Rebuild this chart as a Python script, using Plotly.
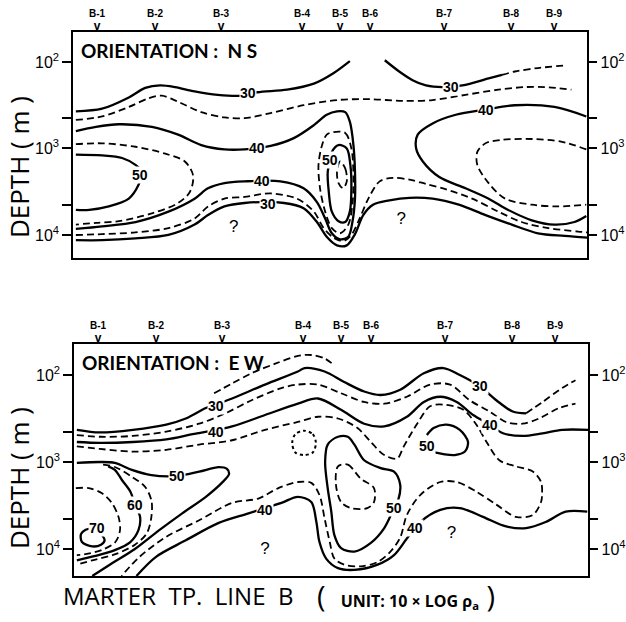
import plotly.graph_objects as go

# ---------------------------------------------------------------
# Apparent-resistivity pseudo-sections, Marter TP. line B.
# Horizontal position in km along the line, depth as log10(m).
# Each isoline is a list of (km, log10 depth) pairs.
# ---------------------------------------------------------------

STATIONS = ["B-1", "B-2", "B-3", "B-4", "B-5", "B-6", "B-7", "B-8", "B-9"]
STATIONS_KM = [0.47, 1.59, 2.89, 4.46, 5.19, 5.79, 7.22, 8.52, 9.36]

DEPTH_TICKS = [100, 450, 1000, 4500, 10000]
DEPTH_TICK_TEXT = ["10<sup>2</sup>", "", "10<sup>3</sup>", "", "10<sup>4</sup>"]

# ---------------- N-S orientation ----------------
NS_30_WEST = [(0.05, 2.57), (0.56, 2.54), (1.08, 2.41), (1.40, 2.30), (1.69, 2.27),
              (1.98, 2.29), (2.36, 2.34), (2.81, 2.38), (3.26, 2.39), (3.58, 2.35),
              (4.16, 2.32), (4.68, 2.25), (5.06, 2.13), (5.38, 1.99)]
NS_30_EAST = [(6.06, 1.98), (6.34, 2.11), (6.60, 2.21), (6.86, 2.27), (7.18, 2.29),
              (7.57, 2.27), (8.08, 2.19), (8.34, 2.15)]
NS_30_EAST_INFERRED = [(8.34, 2.15), (8.59, 2.11), (9.04, 2.07), (9.56, 2.04)]
NS_35_UPPER = [(0.05, 2.67), (0.56, 2.63), (1.08, 2.52), (1.46, 2.42), (1.72, 2.39),
               (2.04, 2.46), (2.49, 2.58), (2.94, 2.64), (3.33, 2.65), (3.84, 2.59),
               (4.48, 2.50), (5.13, 2.44), (5.76, 2.43), (6.41, 2.45), (6.99, 2.44),
               (7.63, 2.38), (8.27, 2.32), (8.79, 2.29), (9.17, 2.29), (9.69, 2.32)]
NS_40_WEST = [(0.05, 2.80), (0.44, 2.75), (0.89, 2.72), (1.53, 2.75), (2.04, 2.84),
              (2.49, 2.96), (2.94, 3.01), (3.33, 3.01), (3.84, 2.97), (4.29, 2.88),
              (4.68, 2.73), (4.93, 2.61), (5.13, 2.57), (5.29, 2.58), (5.38, 2.69),
              (5.45, 2.96), (5.48, 3.27), (5.48, 3.58), (5.43, 3.85), (5.35, 4.02),
              (5.19, 4.05), (5.03, 3.98), (4.90, 3.81), (4.74, 3.62), (4.48, 3.46),
              (4.03, 3.38), (3.33, 3.38), (2.94, 3.40), (2.62, 3.46), (2.36, 3.58),
              (1.85, 3.73), (1.21, 3.85), (0.56, 3.90), (0.05, 3.93)]
NS_45_WEST = [(0.05, 2.95), (0.56, 2.94), (1.21, 2.98), (1.79, 3.06), (2.17, 3.15),
              (2.33, 3.31), (2.27, 3.50), (2.04, 3.63), (1.53, 3.75), (0.89, 3.84),
              (0.44, 3.86), (0.05, 3.88)]
NS_50_WEST = [(0.05, 3.07), (0.56, 3.08), (0.95, 3.11), (1.21, 3.19), (1.34, 3.27),
              (1.27, 3.42), (1.08, 3.58), (0.69, 3.67), (0.31, 3.71), (0.05, 3.71)]
NS_35_LOWER = [(0.05, 4.00), (0.56, 3.99), (1.21, 3.97), (1.85, 3.92), (2.36, 3.81),
               (2.62, 3.67), (2.94, 3.58), (3.33, 3.56), (3.84, 3.52), (4.35, 3.58),
               (4.68, 3.73), (4.87, 3.92), (5.06, 4.03), (5.25, 4.07), (5.41, 4.00),
               (5.57, 3.81), (5.74, 3.58), (5.96, 3.38), (6.22, 3.34), (6.54, 3.36),
               (6.86, 3.41), (7.24, 3.47), (7.76, 3.58), (8.27, 3.73), (8.72, 3.85),
               (9.24, 3.92), (9.82, 3.96), (10.0, 3.97)]
NS_30_LOWER = [(0.05, 4.06), (0.56, 4.06), (1.21, 4.04), (1.85, 4.00), (2.36, 3.88),
               (2.62, 3.77), (2.94, 3.67), (3.33, 3.63), (4.10, 3.63), (4.48, 3.69),
               (4.74, 3.85), (4.93, 4.02), (5.13, 4.12), (5.32, 4.12), (5.48, 3.99),
               (5.64, 3.77), (5.83, 3.65), (6.15, 3.60), (6.54, 3.57), (6.99, 3.58),
               (7.50, 3.65), (8.02, 3.77), (8.53, 3.88), (9.04, 3.98), (9.56, 4.01),
               (10.0, 4.03)]
NS_40_EAST = [(9.98, 2.63), (9.36, 2.52), (8.59, 2.50), (8.02, 2.55), (7.44, 2.61),
              (6.99, 2.71), (6.70, 2.84), (6.67, 3.00), (6.80, 3.15), (7.12, 3.33),
              (7.63, 3.46), (8.08, 3.58), (8.46, 3.71), (8.92, 3.83), (9.36, 3.88),
              (9.75, 3.85), (9.98, 3.78)]
NS_45_EAST = [(9.98, 3.01), (9.49, 2.92), (8.92, 2.89), (8.34, 2.90), (8.02, 2.94),
              (7.86, 3.04), (7.86, 3.19), (8.08, 3.40), (8.40, 3.58), (8.92, 3.65),
              (9.43, 3.67), (9.98, 3.65)]
NS_45_B5 = [(5.06, 2.81), (5.29, 2.82), (5.41, 3.00), (5.45, 3.31), (5.43, 3.65),
            (5.35, 3.88), (5.19, 3.98), (5.03, 3.92), (4.90, 3.73), (4.80, 3.46),
            (4.77, 3.19), (4.84, 2.96), (4.93, 2.84), (5.06, 2.81)]
NS_50_B5 = [(5.16, 2.96), (5.32, 3.00), (5.39, 3.19), (5.41, 3.46), (5.38, 3.73),
            (5.29, 3.85), (5.16, 3.84), (5.03, 3.73), (4.97, 3.50), (4.95, 3.27),
            (5.00, 3.13), (5.03, 3.04), (5.16, 2.96)]
NS_55_B5 = [(5.19, 3.15), (5.29, 3.23), (5.32, 3.38), (5.25, 3.46), (5.16, 3.40),
            (5.13, 3.27), (5.19, 3.15)]

NS_LABELS = [("30", 3.39, 2.36), ("30", 7.34, 2.29), ("40", 3.58, 2.99),
             ("40", 3.68, 3.37), ("30", 3.78, 3.64), ("50", 1.30, 3.31),
             ("40", 8.02, 2.55), ("50", 5.00, 3.13)]
NS_UNKNOWN = [(3.12, 3.92), (6.38, 3.82)]

# ---------------- E-W orientation ----------------
EW_25_TOP = [(2.72, 2.21), (3.06, 2.10), (3.45, 1.98), (3.91, 1.87), (4.35, 1.78),
             (4.61, 1.77), (4.87, 1.81), (5.06, 1.89)]
EW_30 = [(0.05, 2.63), (0.50, 2.66), (1.14, 2.63), (1.79, 2.57), (2.17, 2.50),
         (2.56, 2.38), (3.07, 2.27), (3.71, 2.11), (4.35, 1.96), (4.48, 1.92),
         (4.87, 1.96), (5.25, 2.08), (5.64, 2.19), (5.96, 2.23), (6.34, 2.17),
         (6.80, 1.98), (7.18, 1.92), (7.50, 2.00), (7.89, 2.13), (8.21, 2.29),
         (8.53, 2.42), (8.79, 2.44)]
EW_30_INFERRED = [(8.79, 2.44), (9.11, 2.31), (9.49, 2.15), (9.75, 2.06)]
EW_35 = [(0.05, 2.69), (0.50, 2.71), (1.14, 2.70), (1.79, 2.65), (2.43, 2.56),
         (2.94, 2.44), (3.45, 2.29), (4.03, 2.15), (4.35, 2.11), (4.74, 2.11),
         (5.19, 2.21), (5.64, 2.31), (6.03, 2.33), (6.47, 2.25), (6.92, 2.11),
         (7.31, 2.11), (7.69, 2.29), (8.08, 2.42), (8.40, 2.54), (8.72, 2.56),
         (9.04, 2.50), (9.43, 2.38), (9.75, 2.33)]
EW_40_UPPER = [(0.05, 2.77), (0.50, 2.78), (1.14, 2.77), (1.79, 2.74), (2.30, 2.68),
               (3.07, 2.59), (3.71, 2.46), (4.35, 2.33), (4.74, 2.27), (5.19, 2.40),
               (5.64, 2.56), (6.03, 2.59), (6.47, 2.48), (6.80, 2.31), (7.12, 2.25),
               (7.44, 2.31), (7.76, 2.46), (8.08, 2.57), (8.34, 2.67), (8.72, 2.70),
               (9.11, 2.67), (9.49, 2.63), (10.0, 2.63)]
EW_45 = [(0.05, 2.82), (0.50, 2.85), (1.14, 2.88), (1.79, 2.86), (2.43, 2.80),
         (3.07, 2.75), (3.71, 2.63), (4.35, 2.54), (4.74, 2.48), (5.13, 2.50),
         (5.51, 2.61), (5.77, 2.77), (6.03, 2.92), (6.28, 2.96), (6.41, 2.82),
         (6.67, 2.56), (6.92, 2.36), (7.18, 2.34), (7.57, 2.40), (7.82, 2.57),
         (8.02, 2.77), (8.27, 2.98), (8.59, 3.05), (8.92, 3.11), (9.08, 3.23),
         (9.10, 3.38), (9.08, 3.46), (8.92, 3.61), (8.59, 3.63), (8.21, 3.49),
         (7.82, 3.34), (7.44, 3.23), (7.12, 3.23), (6.73, 3.38), (6.47, 3.61),
         (6.34, 3.87), (6.15, 4.03), (5.90, 4.15), (5.57, 4.20), (5.25, 4.18),
         (5.06, 4.11), (4.97, 3.92), (4.87, 3.65), (4.77, 3.38), (4.61, 3.24),
         (4.35, 3.23), (3.97, 3.30), (3.58, 3.42), (3.07, 3.47), (2.43, 3.67),
         (1.79, 3.86), (1.27, 4.09), (0.92, 4.31)]
EW_45_LOW_B4 = [(4.47, 2.64), (4.64, 2.68), (4.70, 2.78), (4.64, 2.89), (4.47, 2.92),
                (4.30, 2.89), (4.24, 2.78), (4.30, 2.68), (4.47, 2.64)]
EW_50_B5 = [(4.93, 2.80), (5.13, 2.71), (5.32, 2.71), (5.45, 2.80), (5.64, 2.98),
            (5.96, 3.07), (6.22, 3.11), (6.34, 3.26), (6.30, 3.44), (6.22, 3.53),
            (6.03, 3.76), (5.77, 3.93), (5.45, 4.03), (5.19, 3.99), (5.06, 3.84),
            (5.00, 3.57), (4.93, 3.30), (4.88, 3.00), (4.93, 2.80)]
EW_55_B5 = [(5.13, 3.05), (5.32, 3.03), (5.57, 3.19), (5.83, 3.30), (5.83, 3.46),
            (5.70, 3.53), (5.38, 3.53), (5.19, 3.46), (5.09, 3.26), (5.13, 3.05)]
EW_50_B7 = [(7.01, 2.89), (7.18, 2.91), (7.40, 2.92), (7.60, 2.88), (7.66, 2.77),
            (7.50, 2.63), (7.24, 2.57), (6.99, 2.61), (6.86, 2.69)]
EW_40_LOWER = [(1.21, 4.31), (1.59, 4.09), (2.17, 3.90), (2.81, 3.70), (3.39, 3.59),
               (4.03, 3.47), (4.35, 3.40), (4.61, 3.46), (4.71, 3.69), (4.77, 3.92),
               (4.90, 4.11), (5.13, 4.22), (5.45, 4.24), (5.90, 4.18), (6.22, 4.07),
               (6.47, 3.88), (6.73, 3.69), (7.12, 3.55), (7.50, 3.53), (7.95, 3.63),
               (8.40, 3.74), (8.79, 3.76), (9.17, 3.69), (9.56, 3.57), (9.98, 3.57)]
EW_50_WEST = [(0.05, 3.01), (0.50, 3.00), (0.79, 3.01), (1.12, 3.09), (1.50, 3.15),
              (2.00, 3.16), (2.43, 3.11), (2.81, 3.06), (2.97, 3.08), (3.01, 3.14),
              (2.87, 3.24), (2.56, 3.40), (2.10, 3.59), (1.66, 3.78), (1.18, 4.00),
              (0.69, 4.18), (0.35, 4.31)]
EW_55_WEST = [(0.56, 3.03), (0.80, 3.06), (1.12, 3.17), (1.37, 3.28), (1.50, 3.44),
              (1.50, 3.63), (1.41, 3.82), (1.18, 3.95), (0.80, 4.06), (0.35, 4.13),
              (0.05, 4.18)]
EW_60 = [(0.66, 3.05), (0.79, 3.09), (0.93, 3.21), (1.09, 3.34), (1.18, 3.49),
         (1.28, 3.63), (1.25, 3.78), (1.09, 3.92), (0.80, 4.01), (0.41, 4.08),
         (0.05, 4.13)]
EW_65 = [(0.03, 3.30), (0.28, 3.30), (0.54, 3.36), (0.73, 3.47), (0.86, 3.63),
         (0.89, 3.78), (0.80, 3.92), (0.54, 4.01), (0.22, 4.06), (0.05, 4.07)]
EW_70 = [(0.35, 3.76), (0.22, 3.78), (0.13, 3.83), (0.15, 3.92), (0.35, 3.97),
         (0.52, 3.95), (0.59, 3.90), (0.54, 3.84)]

EW_LABELS = [("30", 2.75, 2.36), ("30", 7.89, 2.13), ("40", 2.75, 2.65),
             ("40", 8.08, 2.57), ("50", 2.00, 3.16), ("60", 1.18, 3.49),
             ("70", 0.44, 3.76), ("50", 6.86, 2.82), ("50", 6.22, 3.53),
             ("40", 3.71, 3.55), ("40", 6.63, 3.76)]
EW_UNKNOWN = [(3.71, 4.01), (7.34, 3.82)]

SOLID = dict(color="black", width=2.3, dash="solid")
DASHED = dict(color="black", width=1.8, dash="7px,4px")
DOTTED = dict(color="black", width=2.0, dash="3px,3px")

NS_LINES = [(NS_30_WEST, SOLID), (NS_30_EAST, SOLID), (NS_30_EAST_INFERRED, DASHED),
            (NS_35_UPPER, DASHED), (NS_40_WEST, SOLID), (NS_45_WEST, DASHED),
            (NS_50_WEST, SOLID), (NS_35_LOWER, DASHED), (NS_30_LOWER, SOLID),
            (NS_40_EAST, SOLID), (NS_45_EAST, DASHED), (NS_45_B5, DASHED),
            (NS_50_B5, SOLID), (NS_55_B5, DASHED)]
EW_LINES = [(EW_25_TOP, DASHED), (EW_30, SOLID), (EW_30_INFERRED, DASHED),
            (EW_35, DASHED), (EW_40_UPPER, SOLID), (EW_45, DASHED),
            (EW_45_LOW_B4, DOTTED), (EW_50_B5, SOLID), (EW_55_B5, DASHED),
            (EW_50_B7, SOLID), (EW_40_LOWER, SOLID), (EW_50_WEST, SOLID),
            (EW_55_WEST, DASHED), (EW_60, SOLID), (EW_65, DASHED), (EW_70, SOLID)]

fig = go.Figure()


def add_isolines(lines, xa, ya):
    for pts, style in lines:
        fig.add_trace(go.Scatter(
            x=[p[0] for p in pts], y=[10 ** p[1] for p in pts],
            mode="lines", line=dict(shape="spline", smoothing=0.9, **style),
            xaxis=xa, yaxis=ya, hoverinfo="skip", showlegend=False))


add_isolines(NS_LINES, "x", "y")
add_isolines(EW_LINES, "x2", "y2")

# unresolved zones, placed on the right-hand depth axes
fig.add_trace(go.Scatter(
    x=[p[0] for p in NS_UNKNOWN], y=[10 ** p[1] for p in NS_UNKNOWN],
    mode="text", text=["?"] * len(NS_UNKNOWN),
    textfont=dict(family="Liberation Sans", size=17, color="black"),
    xaxis="x", yaxis="y3", showlegend=False, hoverinfo="skip"))
fig.add_trace(go.Scatter(
    x=[p[0] for p in EW_UNKNOWN], y=[10 ** p[1] for p in EW_UNKNOWN],
    mode="text", text=["?"] * len(EW_UNKNOWN),
    textfont=dict(family="Liberation Sans", size=17, color="black"),
    xaxis="x2", yaxis="y4", showlegend=False, hoverinfo="skip"))

annotations = []


def isoline_labels(labels, xa, ya):
    for txt, km, logd in labels:
        annotations.append(dict(
            x=km, y=logd, xref=xa, yref=ya, text="<b>%s</b>" % txt,
            showarrow=False, bgcolor="white", borderpad=0,
            font=dict(family="Liberation Sans Narrow, Arial Narrow, sans-serif",
                      size=14, color="black")))


isoline_labels(NS_LABELS, "x", "y")
isoline_labels(EW_LABELS, "x2", "y2")


def station_marks(xa, y_frame_top):
    # station name with a "v" pointer resting on the top of the frame
    for name, km in zip(STATIONS, STATIONS_KM):
        annotations.append(dict(
            x=km, y=y_frame_top, xref=xa, yref="paper",
            text="<b>%s</b><br><span style='font-size:12px'><b>v</b></span>" % name,
            showarrow=False, yanchor="bottom", yshift=-3,
            font=dict(family="Liberation Sans Narrow, sans-serif", size=10, color="black")))


station_marks("x", 0.9486)
station_marks("x2", 0.4469)

for dom_x, dom_y, txt in [("x domain", "y domain", "ORIENTATION :  N S"),
                          ("x2 domain", "y2 domain", "ORIENTATION :  E W")]:
    annotations.append(dict(
        x=0.012, y=0.92, xref=dom_x, yref=dom_y, text="<b>%s</b>" % txt,
        showarrow=False, xanchor="left", yanchor="middle",
        font=dict(family="Lato, Open Sans, sans-serif", size=19, color="black")))

for yc in [0.7307, 0.2307]:
    annotations.append(dict(
        x=0.030, y=yc, xref="paper", yref="paper", text="DEPTH ( m )",
        textangle=-90, showarrow=False, xanchor="center", yanchor="middle",
        font=dict(family="Open Sans, sans-serif", size=26, color="black")))

annotations.append(dict(
    x=0.099, y=0.0434, xref="paper", yref="paper", text="MARTER  TP.  LINE  B",
    showarrow=False, xanchor="left", yanchor="middle",
    font=dict(family="Open Sans, sans-serif", size=24, color="black")))
annotations.append(dict(
    x=0.508, y=0.0434, xref="paper", yref="paper",
    text="(  <span style='font-size:16px'><b>UNIT: 10 × LOG ρ<sub>a</sub></b></span> )",
    showarrow=False, xanchor="left", yanchor="middle",
    font=dict(family="Open Sans, sans-serif", size=29, color="black")))

frame = dict(showline=True, linecolor="black", linewidth=2, mirror=True,
             showgrid=False, zeroline=False)
depth_left = dict(type="log", tickvals=DEPTH_TICKS, ticktext=DEPTH_TICK_TEXT,
                  ticks="outside", ticklen=9, tickwidth=1.6, tickcolor="black",
                  tickfont=dict(family="Liberation Sans Narrow, Arial Narrow, sans-serif",
                                size=16, color="black"),
                  showgrid=False, zeroline=False)

fig.update_layout(
    width=626, height=622,
    margin=dict(l=0, r=0, t=0, b=0),
    paper_bgcolor="white", plot_bgcolor="white",
    showlegend=False,
    xaxis=dict(domain=[0.1182, 0.9473], range=[0, 10], showticklabels=False,
               ticks="", anchor="y", **frame),
    yaxis=dict(domain=[0.5852, 0.9486], range=[4.266, 1.653], anchor="x",
               side="left", showline=True, linecolor="black", linewidth=2,
               mirror=True, **depth_left),
    yaxis3=dict(overlaying="y", anchor="x", side="right", range=[4.266, 1.653],
                **depth_left),
    xaxis2=dict(domain=[0.1198, 0.9489], range=[0, 10], showticklabels=False,
                ticks="", anchor="y2", **frame),
    yaxis2=dict(domain=[0.0740, 0.4469], range=[4.310, 1.644], anchor="x2",
                side="left", showline=True, linecolor="black", linewidth=2,
                mirror=True, **depth_left),
    yaxis4=dict(overlaying="y2", anchor="x2", side="right", range=[4.310, 1.644],
                **depth_left),
    annotations=annotations,
)

fig.write_html("out.html")
